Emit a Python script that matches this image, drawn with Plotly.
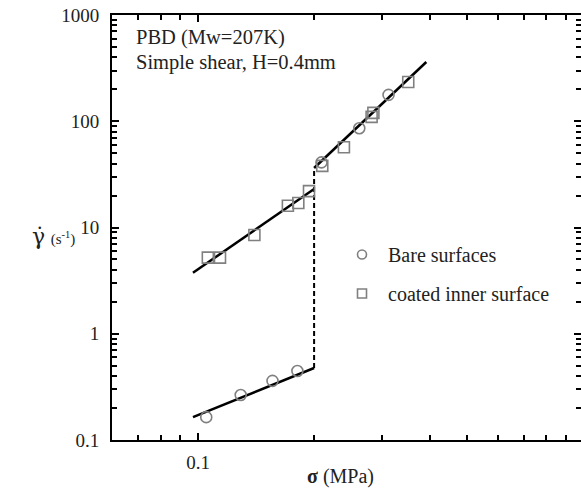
import plotly.graph_objects as go
import math

# ---- data ----
bare_x = [0.105, 0.129, 0.156, 0.181, 0.209, 0.262, 0.312]
bare_y = [0.164, 0.265, 0.36, 0.446, 41, 86, 177]

coated_x = [0.106, 0.114, 0.14, 0.171, 0.182, 0.194, 0.21, 0.239, 0.282, 0.285, 0.351]
coated_y = [5.2, 5.2, 8.5, 16, 17, 22, 38, 57, 110, 120, 234]

fit_low_x = [0.097, 0.2]
fit_low_y = [0.164, 0.476]
fit_mid_x = [0.097, 0.2]
fit_mid_y = [3.75, 23]
fit_high_x = [0.2, 0.391]
fit_high_y = [36.3, 361]
jump_x = [0.2, 0.2]
jump_y = [0.476, 36.3]

x_tickvals = [0.1, 1]
x_ticktext = ["0.1", "1"]
y_tickvals = [0.1, 1, 10, 100, 1000]
y_ticktext = ["0.1", "1", "10", "100", "1000"]

W, H = 581, 491
ML, MR, MT, MB = 112, 0, 15, 51
PW = W - ML - MR
PH = H - MT - MB

def px(xpix):
    return (xpix - ML) / PW

def py(ypix):
    return 1 - (ypix - MT) / PH

SERIF = "Liberation Serif"
GRAY = "#808080"
TXT = "#222222"

fig = go.Figure()

for fx, fy in [(fit_low_x, fit_low_y), (fit_mid_x, fit_mid_y), (fit_high_x, fit_high_y)]:
    fig.add_trace(go.Scatter(x=fx, y=fy, mode="lines", line=dict(color="black", width=2.5),
                             showlegend=False, hoverinfo="skip"))
fig.add_trace(go.Scatter(x=jump_x, y=jump_y, mode="lines",
                         line=dict(color="black", width=2, dash="5px,3px"),
                         showlegend=False, hoverinfo="skip"))

fig.add_trace(go.Scatter(x=bare_x, y=bare_y, mode="markers", name="Bare surfaces",
                         marker=dict(symbol="circle-open", size=11, color=GRAY, line=dict(width=1.6)),
                         showlegend=False))
fig.add_trace(go.Scatter(x=coated_x, y=coated_y, mode="markers", name="coated inner surface",
                         marker=dict(symbol="square-open", size=11, color=GRAY, line=dict(width=1.6)),
                         showlegend=False))

# legend entries (smaller symbols as in the reference)
fig.add_trace(go.Scatter(x=[None], y=[None], mode="markers", name="Bare surfaces",
                         marker=dict(symbol="circle-open", size=9, color=GRAY, line=dict(width=1.6)),
                         legendgroup="a"))
fig.add_trace(go.Scatter(x=[None], y=[None], mode="markers", name="coated inner surface",
                         marker=dict(symbol="square-open", size=9, color=GRAY, line=dict(width=1.6)),
                         legendgroup="b"))

# invisible trace for the right-hand tick axis
fig.add_trace(go.Scatter(x=[None], y=[None], yaxis="y2", showlegend=False, hoverinfo="skip"))

xr = [math.log10(0.0598), math.log10(0.9851)]
yr = [-1, 3]

fig.update_layout(
    width=W, height=H,
    margin=dict(l=ML, r=MR, t=MT, b=MB, pad=0, autoexpand=False),
    paper_bgcolor="white", plot_bgcolor="white",
    font=dict(family=SERIF, size=19, color=TXT),
    xaxis=dict(type="log", range=xr, showgrid=False, zeroline=False,
               showline=True, linecolor="black", linewidth=2, mirror="ticks",
               ticks="inside", ticklen=7, tickwidth=2, tickcolor="black",
               tickvals=x_tickvals, ticktext=x_ticktext, ticklabelstandoff=4,
               ticklabeloverflow="allow",
               tickfont=dict(family=SERIF, size=19, color=TXT),
               minor=dict(ticks="inside", ticklen=5, tickwidth=2, tickcolor="black",
                          dtick="D1", showgrid=False)),
    yaxis=dict(type="log", range=yr, showgrid=False, zeroline=False,
               showline=True, linecolor="black", linewidth=2,
               ticks="inside", ticklen=7, tickwidth=2, tickcolor="black",
               tickvals=y_tickvals, ticktext=y_ticktext, ticklabelstandoff=7,
               ticklabeloverflow="allow",
               tickfont=dict(family=SERIF, size=19, color=TXT),
               minor=dict(ticks="inside", ticklen=5, tickwidth=2, tickcolor="black",
                          dtick="D1", showgrid=False)),
    yaxis2=dict(type="log", range=yr, overlaying="y", side="right", showgrid=False,
                zeroline=False, showline=False, showticklabels=False,
                ticks="inside", ticklen=7, tickwidth=2, tickcolor="black",
                tickvals=y_tickvals,
                minor=dict(ticks="inside", ticklen=5, tickwidth=2, tickcolor="black",
                           dtick="D1", showgrid=False)),
    legend=dict(x=px(336), y=py(235), xanchor="left", yanchor="top",
                font=dict(family=SERIF, size=20, color=TXT),
                bgcolor="rgba(0,0,0,0)", traceorder="grouped", tracegroupgap=10,
                itemsizing="trace", itemwidth=42),
    showlegend=True,
)

fig.add_annotation(xref="paper", yref="paper", x=px(134), y=py(38), xanchor="left", yanchor="middle",
                   text="PBD (Mw=207K)", showarrow=False,
                   font=dict(family=SERIF, size=20.5, color=TXT))
fig.add_annotation(xref="paper", yref="paper", x=px(134), y=py(63), xanchor="left", yanchor="middle",
                   text="Simple shear, H=0.4mm", showarrow=False,
                   font=dict(family=SERIF, size=20.5, color=TXT))

# y-axis title: gamma-dot and the unit
fig.add_annotation(xref="paper", yref="paper", x=px(30), y=py(236), xanchor="left", yanchor="middle",
                   text="<span style='font-family:DejaVu Serif;font-size:22px'>γ̇</span>"
                        " <span style='font-size:15px'>(s<sup>-1</sup>)</span>",
                   showarrow=False,
                   font=dict(family=SERIF, size=22, color=TXT))

fig.add_annotation(xref="paper", yref="paper", x=px(340), y=py(476), xanchor="center", yanchor="middle",
                   text="<b>σ</b> (MPa)", showarrow=False,
                   font=dict(family=SERIF, size=20, color=TXT))

# remove the page's default body margin and scrollbars so the figure fills the window exactly
fig.write_html(
    "out.html",
    config={"displayModeBar": False},
    post_script=("document.body.style.margin='0';"
                 "document.body.style.overflow='hidden';"
                 "document.documentElement.style.overflow='hidden';"),
)
